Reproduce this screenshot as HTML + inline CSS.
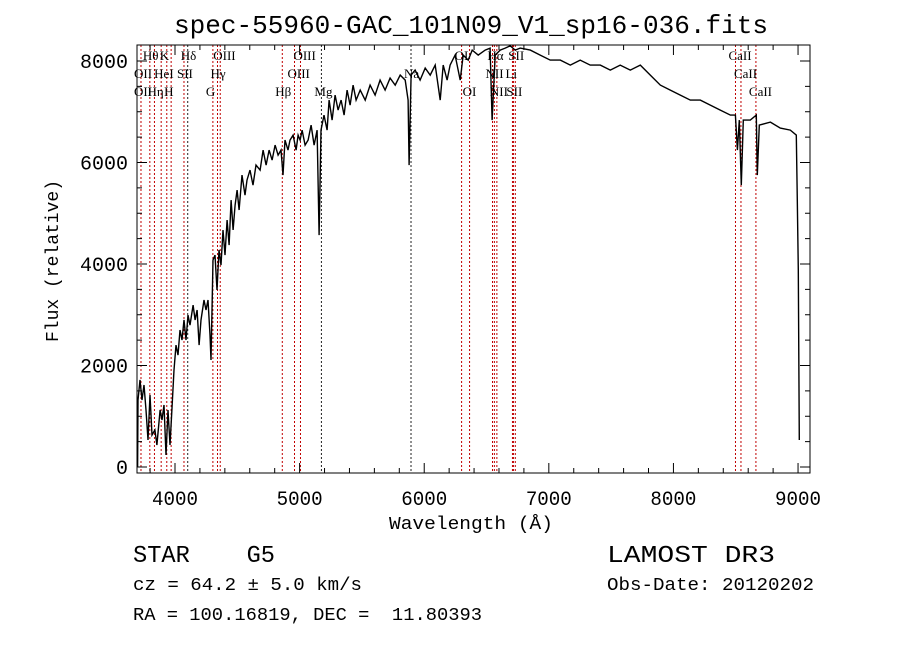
<!DOCTYPE html>
<html><head><meta charset="utf-8"><style>
html,body{margin:0;padding:0;background:#fff;}
svg{display:block;}
text{font-family:"Liberation Mono","DejaVu Sans Mono",monospace;fill:#000;}
.lbl{font-family:"Liberation Serif",serif;font-size:13px;}
</style></head><body>
<svg id="chart" width="900" height="649" viewBox="0 0 900 649" xmlns="http://www.w3.org/2000/svg">
<text x="471" y="33" text-anchor="middle" font-size="26" textLength="594" lengthAdjust="spacingAndGlyphs">spec-55960-GAC_101N09_V1_sp16-036.fits</text>
<text transform="translate(58,261) rotate(-90)" text-anchor="middle" font-size="18" textLength="162" lengthAdjust="spacingAndGlyphs">Flux (relative)</text>
<text x="471" y="529" text-anchor="middle" font-size="18" textLength="164" lengthAdjust="spacingAndGlyphs">Wavelength (Å)</text>
<text x="133" y="562" font-size="24" xml:space="preserve" textLength="142" lengthAdjust="spacingAndGlyphs">STAR    G5</text>
<text x="607" y="562" font-size="24" textLength="168" lengthAdjust="spacingAndGlyphs">LAMOST DR3</text>
<text x="133" y="590" font-size="18" textLength="229" lengthAdjust="spacingAndGlyphs">cz = 64.2 ± 5.0 km/s</text>
<text x="607" y="590" font-size="18" textLength="207" lengthAdjust="spacingAndGlyphs">Obs-Date: 20120202</text>
<text x="133" y="620" font-size="18" xml:space="preserve" textLength="349" lengthAdjust="spacingAndGlyphs">RA = 100.16819, DEC =  11.80393</text>
<g id="plot"></g>
</svg>
<script>
const waves=[3700,3703,3719,3735,3751,3767,3783,3799,3815,3839,3855,3880,3896,3912,3928,3944,3960,3976,3992,4008,4024,4040,4056,4072,4088,4104,4120,4145,4161,4177,4193,4209,4233,4249,4265,4281,4289,4305,4321,4337,4353,4369,4385,4401,4418,4434,4450,4466,4482,4498,4514,4538,4562,4578,4602,4626,4650,4683,4707,4731,4755,4779,4803,4827,4851,4867,4883,4907,4923,4948,4972,4988,5004,5020,5044,5068,5092,5116,5140,5156,5172,5196,5221,5237,5261,5285,5309,5333,5357,5381,5405,5429,5453,5486,5526,5566,5606,5646,5686,5726,5767,5807,5847,5871,5879,5895,5927,5967,6008,6048,6088,6128,6152,6184,6208,6248,6289,6313,6353,6385,6433,6489,6529,6545,6570,6610,6650,6690,6730,6770,6851,6931,7011,7092,7172,7252,7332,7413,7493,7573,7654,7734,7814,7895,7975,8055,8135,8216,8296,8376,8457,8497,8513,8529,8545,8561,8617,8665,8673,8689,8778,8858,8938,8986,8994,9002,9010];
const fluxes=[0,1320,1714,1320,1615,1123,532,1418,630,729,433,1123,926,1221,236,1123,433,1162,1911,2403,2206,2699,2502,2896,2502,2994,2797,3191,2896,3093,2403,2896,3290,3093,3290,2600,2108,4078,4176,3487,4275,3979,4669,4176,4866,4373,5260,4669,5161,5457,5063,5752,5358,5654,5851,5555,5949,5851,6245,5949,6245,6048,6343,6146,6245,5752,6442,6245,6442,6540,6245,6540,6442,6639,6343,6442,6737,6343,6639,4570,6639,6934,6639,7230,6836,7328,7033,7230,6934,7427,7131,7525,7230,7427,7230,7525,7328,7624,7427,7663,7525,7722,7624,7230,5949,7722,7821,7624,7860,7722,7919,7230,7919,7624,7919,8116,7624,8116,8018,8215,8116,8215,8254,6836,8116,8215,8254,8300,8215,8254,8215,8116,8018,8018,7919,8018,7919,7919,7821,7919,7821,7919,7722,7525,7427,7328,7230,7230,7131,7033,6934,6934,6245,6836,5555,6836,6836,6934,5752,6737,6796,6678,6639,6540,5260,3881,532];
const lineWaves=[3727,3798,3835,3889,3934,3969,4072,4102,4304,4341,4363,4861,4959,5007,5175,5894,6300,6364,6548,6563,6583,6708,6716,6731,8498,8542,8662];
const lineBlack=[0,0,0,0,0,0,0,1,0,0,0,0,0,0,1,1,0,0,0,0,0,0,0,0,0,0,0];
const labelNames=["Hθ","K","Hδ","OIII","OIII","OI","Hα","SII","CaII","OII","HeI","SII","Hγ","OIII","Na","NII","Li","CaII","OII","Hη","H","G","Hβ","Mg","OI","NII","SII","CaII"];
const labelWaves=[3798,3934,4102,4363,5007,6300,6563,6731,8498,3727,3889,4072,4341,4959,5894,6548,6708,8542,3727,3835,3969,4304,4861,5175,6364,6583,6716,8662];
const labelRows=[0,0,0,0,0,0,0,0,0,1,1,1,1,1,1,1,1,1,2,2,2,2,2,2,2,2,2,2];
const xTicks=[4000,5000,6000,7000,8000,9000];
const yTicks=[0,2000,4000,6000,8000];

const L=137,R=810,T=45,B=473,X0=3695,X1=9096,Y0=-118,Y1=8315;
const sx=w=>L+(w-X0)/(X1-X0)*(R-L);
const sy=f=>B-(f-Y0)/(Y1-Y0)*(B-T);
const NS="http://www.w3.org/2000/svg";
const g=document.getElementById('plot');
function mk(t,a){const e=document.createElementNS(NS,t);for(const k in a)e.setAttribute(k,a[k]);g.appendChild(e);return e;}

lineWaves.forEach((w,i)=>{
 const e=mk('line',{x1:sx(w),x2:sx(w),y1:T,y2:B,stroke:lineBlack[i]?'#222':'#c00000','stroke-width':1,'stroke-dasharray':'2,2'});
 
 
});
const rowY=[60,78,96];
labelNames.forEach((n,i)=>{
 const e=mk('text',{x:sx(labelWaves[i])-7,y:rowY[labelRows[i]],class:'lbl'});
 e.textContent=n;
 
 
});
let d='';
waves.forEach((w,i)=>{d+=(i?'L':'M')+sx(w).toFixed(1)+' '+sy(fluxes[i]).toFixed(1);});
const sp=mk('path',{d:d,fill:'none',stroke:'#000','stroke-width':1.4});



const fr=mk('rect',{x:L,y:T,width:R-L,height:B-T,fill:'none',stroke:'#000','stroke-width':1});


for(let w=3800;w<=9000;w+=200){
 const maj=w%1000===0, len=maj?10:5;
 mk('line',{x1:sx(w),x2:sx(w),y1:B,y2:B-len,stroke:'#000'});
 mk('line',{x1:sx(w),x2:sx(w),y1:T,y2:T+len,stroke:'#000'});
}
for(let f=0;f<=8000;f+=500){
 const maj=f%2000===0, len=maj?10:5;
 mk('line',{x1:L,x2:L+len,y1:sy(f),y2:sy(f),stroke:'#000'});
 mk('line',{x1:R,x2:R-len,y1:sy(f),y2:sy(f),stroke:'#000'});
}
xTicks.forEach(v=>{
 const e=mk('text',{x:sx(v),y:B+32,'text-anchor':'middle','font-size':20,textLength:46,lengthAdjust:'spacingAndGlyphs'});
 e.textContent=v;
 
 
});
yTicks.forEach(v=>{
 const len=String(v).length*12;
 const e=mk('text',{x:L-9,y:sy(v)+7,'text-anchor':'end','font-size':20,textLength:len,lengthAdjust:'spacingAndGlyphs'});
 e.textContent=v;
 
 
});
</script>
</body></html>
